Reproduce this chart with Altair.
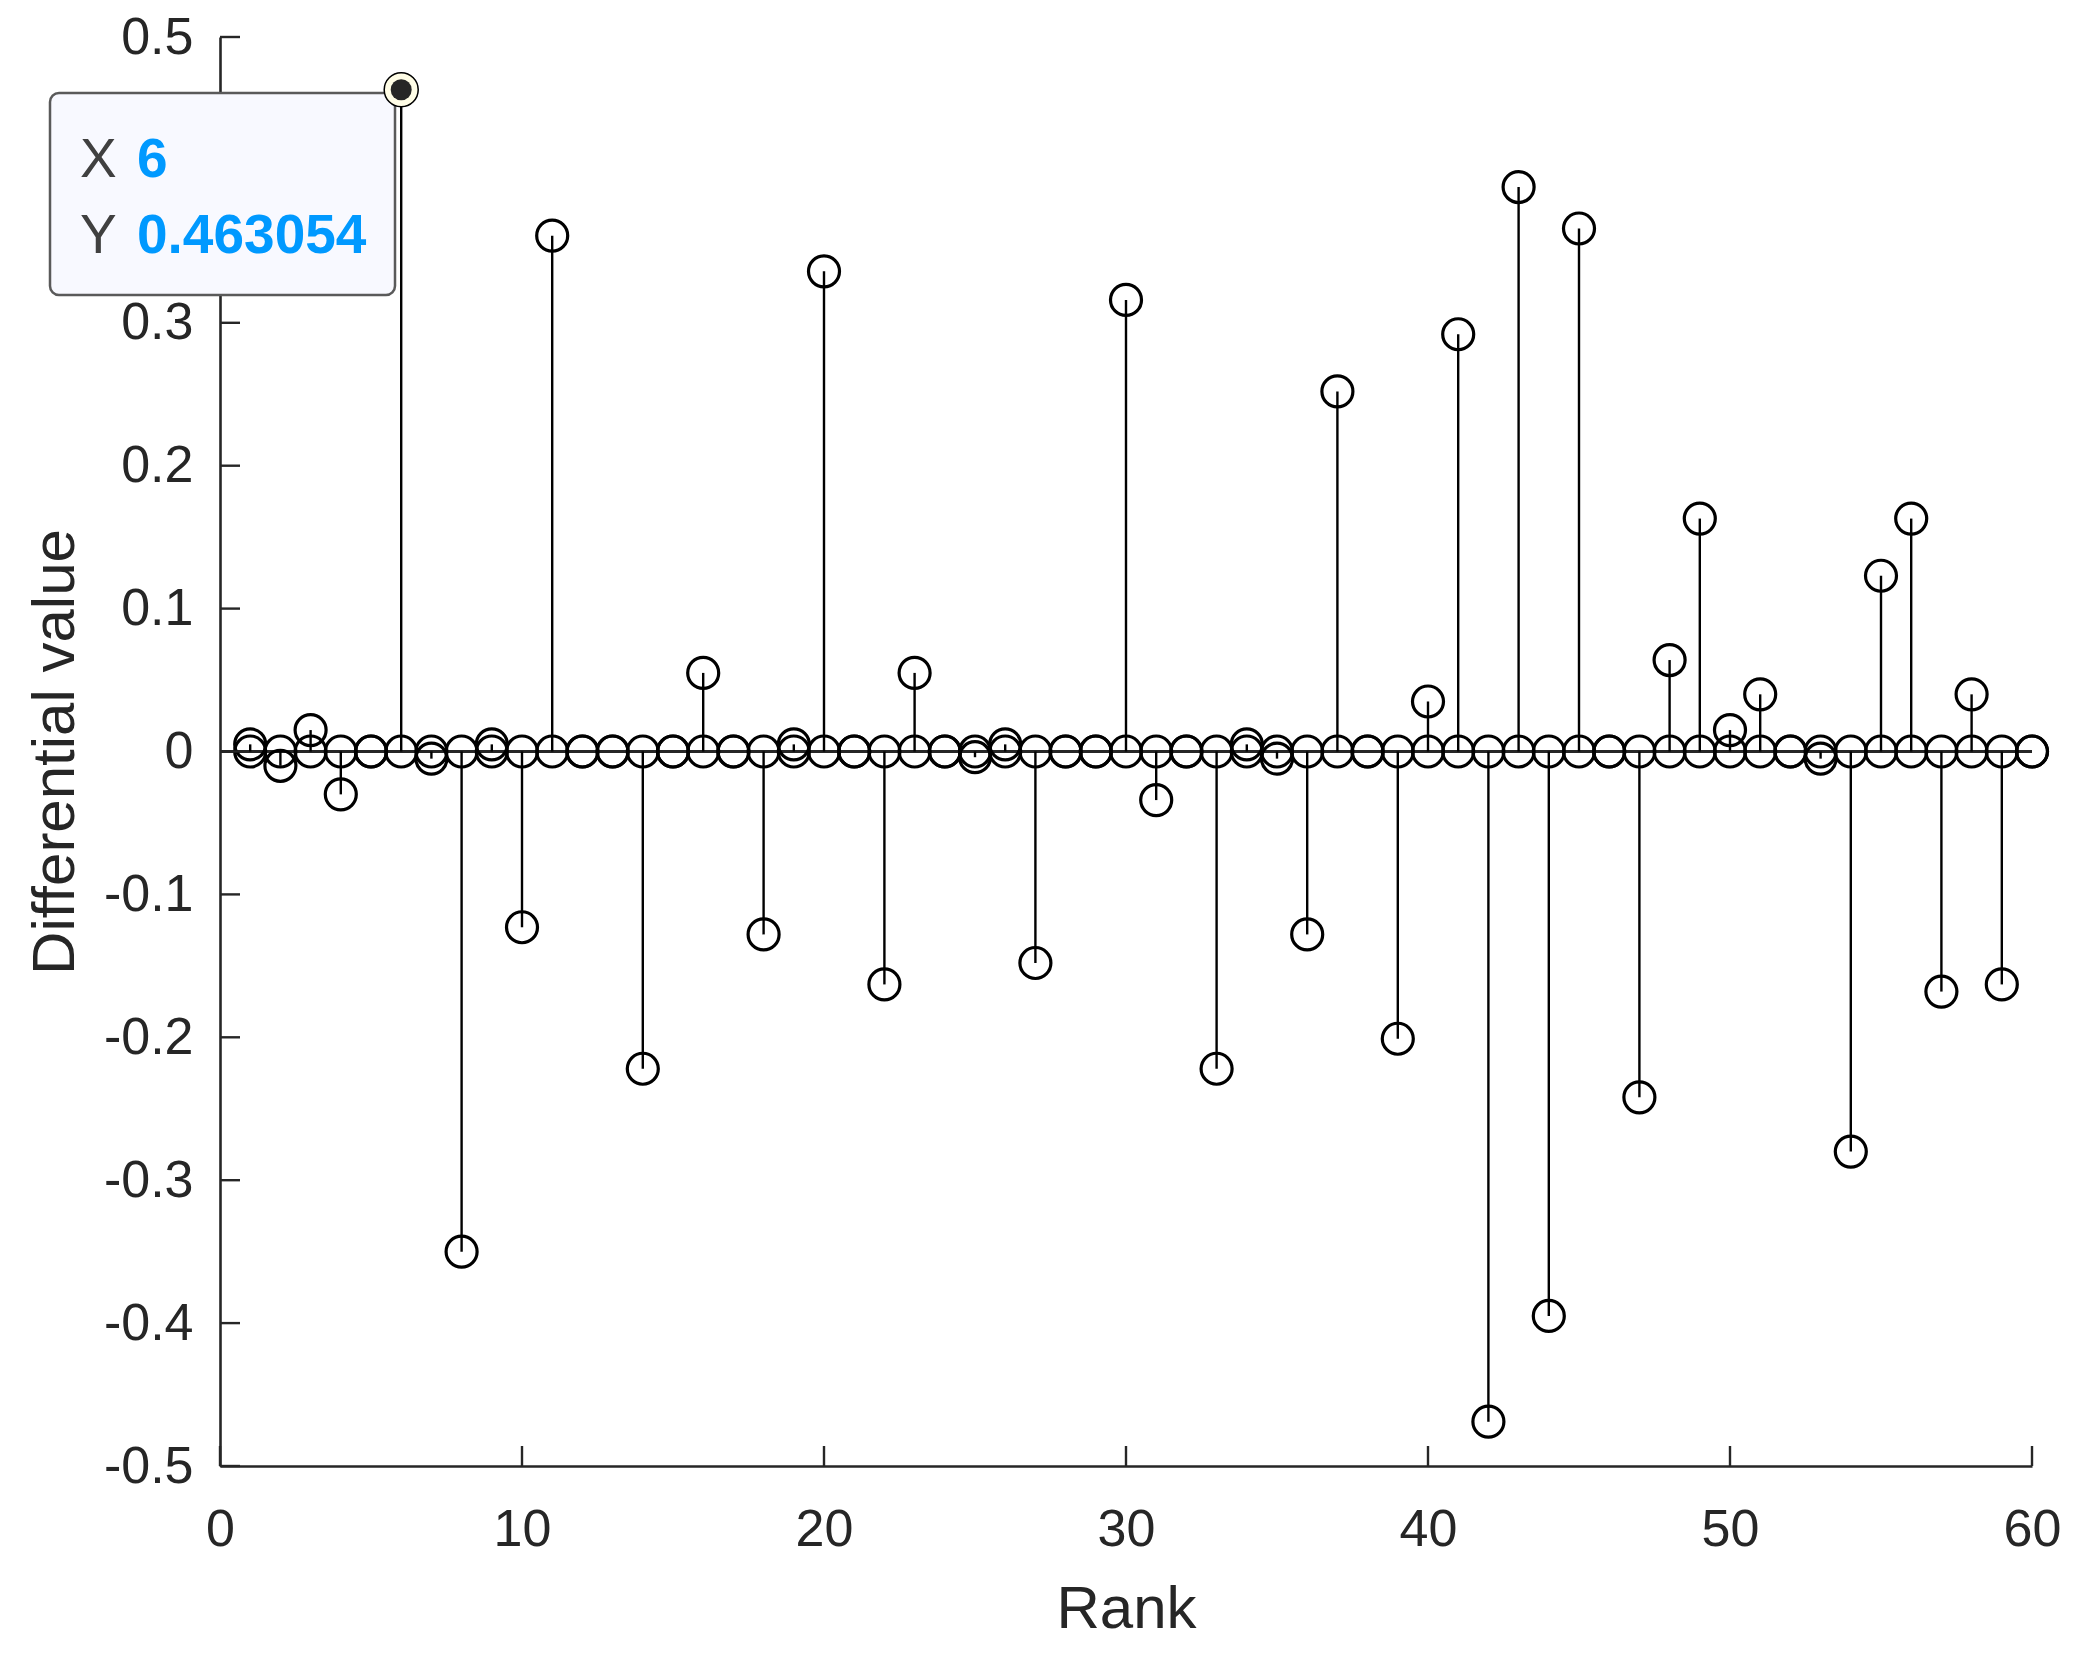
import altair as alt
import pandas as pd

# ---------------- data ----------------
rank = list(range(1, 61))
diff_value = [0.005, -0.010, 0.015, -0.030, 0.0, 0.463054, -0.005, -0.350, 0.005, -0.123,
              0.361, 0.0, 0.0, -0.222, 0.0, 0.055, 0.0, -0.128, 0.005, 0.336,
              0.0, -0.163, 0.055, 0.0, -0.004, 0.005, -0.148, 0.0, 0.0, 0.316,
              -0.034, 0.0, -0.222, 0.005, -0.005, -0.128, 0.252, 0.0, -0.201, 0.035,
              0.292, -0.469, 0.395, -0.395, 0.366, 0.0, -0.242, 0.064, 0.163, 0.015,
              0.040, 0.0, -0.005, -0.280, 0.123, 0.163, -0.168, 0.040, -0.163, 0.0]
base_value = [0.0, 0.0, 0.0, 0.0, 0.0, 0.0, 0.0, 0.0, 0.0, 0.0,
              0.0, 0.0, 0.0, 0.0, 0.0, 0.0, 0.0, 0.0, 0.0, 0.0,
              0.0, 0.0, 0.0, 0.0, 0.0, 0.0, 0.0, 0.0, 0.0, 0.0,
              0.0, 0.0, 0.0, 0.0, 0.0, 0.0, 0.0, 0.0, 0.0, 0.0,
              0.0, 0.0, 0.0, 0.0, 0.0, 0.0, 0.0, 0.0, 0.0, 0.0,
              0.0, 0.0, 0.0, 0.0, 0.0, 0.0, 0.0, 0.0, 0.0, 0.0]
x_ticks = [0, 10, 20, 30, 40, 50, 60]
y_ticks = [-0.5, -0.4, -0.3, -0.2, -0.1, 0.0, 0.1, 0.2, 0.3, 0.4, 0.5]
tip_rank = [6]
tip_value = [0.463054]

W, H = 1812, 1429
FONT = "Liberation Sans"
INK = "#262626"

df_val = pd.DataFrame({"rank": rank, "value": diff_value, "zero": base_value})
df_base = pd.DataFrame({"rank": rank, "value": base_value})
df_line = pd.DataFrame({"rank": [x_ticks[0]], "rank2": [x_ticks[-1]], "value": [0.0]})
df_xt = pd.DataFrame({"rank": x_ticks})
df_yt = pd.DataFrame({"value": y_ticks})
df_tip = pd.DataFrame({"rank": tip_rank, "value": tip_value})

xscale = alt.Scale(domain=[x_ticks[0], x_ticks[-1]], nice=False, zero=False)
yscale = alt.Scale(domain=[y_ticks[0], y_ticks[-1]], nice=False, zero=False)

x_axis = alt.Axis(values=x_ticks, title="Rank", ticks=False, grid=False, labelFlush=False,
                  labelPadding=38, labelFontSize=52, labelFont=FONT, labelColor=INK,
                  domainColor=INK, domainWidth=2.6,
                  titleFontSize=60, titleFont=FONT, titleColor=INK, titleFontWeight="normal",
                  titleBaseline="alphabetic", titleY=161, titleX=W / 2)
# the 0.4 label lies under the data tip box in the reference, so it is left blank
y_axis = alt.Axis(values=y_ticks, title="Differential value", ticks=False, grid=False,
                  labelFlush=False,
                  labelPadding=27, labelFontSize=52, labelFont=FONT, labelColor=INK,
                  labelBaseline="middle",
                  labelExpr="abs(datum.value - 0.4) < 1e-9 ? '' : (datum.value == 0 ? '0' : (datum.value < 0 ? '-' + format(-datum.value, '.1f') : format(datum.value, '.1f')))",
                  domainColor=INK, domainWidth=2.6,
                  titleFontSize=60, titleFont=FONT, titleColor=INK, titleFontWeight="normal",
                  titleAngle=270, titleBaseline="alphabetic", titleAlign="center",
                  titleX=-147, titleY=H / 2)

# baseline of the stems
baseline = alt.Chart(df_line).mark_rule(color=INK, strokeWidth=3).encode(
    x=alt.X("rank:Q", scale=xscale, axis=x_axis),
    x2="rank2:Q",
    y=alt.Y("value:Q", scale=yscale, axis=y_axis),
)

stems = alt.Chart(df_val).mark_rule(color="black", strokeWidth=2.4).encode(
    x="rank:Q", y="value:Q", y2="zero:Q"
)

circ_base = alt.Chart(df_base).mark_point(shape="circle", size=961, filled=False,
                                          color="black", strokeWidth=3.2, opacity=1).encode(
    x="rank:Q", y="value:Q"
)
circ_val = alt.Chart(df_val).mark_point(shape="circle", size=961, filled=False,
                                        color="black", strokeWidth=3.2, opacity=1).encode(
    x="rank:Q", y="value:Q"
)

# inward ticks
xt = alt.Chart(df_xt).mark_rule(color=INK, strokeWidth=2.4).encode(
    x="rank:Q", y=alt.value(H), y2=alt.value(H - 20)
)
yt = alt.Chart(df_yt).mark_rule(color=INK, strokeWidth=2.4).encode(
    y="value:Q", x=alt.value(0), x2=alt.value(20)
)

# data tip
tip_box = alt.Chart(df_tip).mark_rect(fill="#f8f9ff", stroke="#5a5a5a", strokeWidth=2.5,
                                      cornerRadius=9).encode(
    x=alt.value(-170), x2=alt.value(175), y=alt.value(56), y2=alt.value(258)
)
tip_outer = alt.Chart(df_tip).mark_point(shape="circle", size=1156, filled=True,
                                         fill="#fffde6", stroke="black", strokeWidth=1.5,
                                         opacity=1).encode(x="rank:Q", y="value:Q")
tip_inner = alt.Chart(df_tip).mark_point(shape="circle", size=441, filled=True,
                                         color=INK, opacity=1).encode(x="rank:Q", y="value:Q")

lab_kw = dict(align="left", baseline="alphabetic", fontSize=55, font=FONT)
t_x = alt.Chart(df_tip).mark_text(color="#404040", **lab_kw).encode(
    x=alt.value(-140), y=alt.value(140), text=alt.value("X"))
t_y = alt.Chart(df_tip).mark_text(color="#404040", **lab_kw).encode(
    x=alt.value(-140), y=alt.value(216), text=alt.value("Y"))
t_xv = alt.Chart(df_tip).mark_text(color="#0099ff", fontWeight="bold", **lab_kw).encode(
    x=alt.value(-83), y=alt.value(140), text=alt.Text("rank:Q", format="d"))
t_yv = alt.Chart(df_tip).mark_text(color="#0099ff", fontWeight="bold", **lab_kw).encode(
    x=alt.value(-83), y=alt.value(216), text=alt.Text("value:Q", format=".6f"))

chart = alt.layer(
    baseline, stems, circ_base, circ_val, xt, yt,
    tip_box, tip_outer, tip_inner, t_x, t_y, t_xv, t_yv
).properties(
    width=W, height=H,
    autosize=alt.AutoSizeParams(type="none"),
    padding={"left": 212, "top": 29, "right": 30, "bottom": 175},
    background="white",
).configure_view(stroke=None)

chart.save("out.html", embed_options={"renderer": "svg", "actions": False})
